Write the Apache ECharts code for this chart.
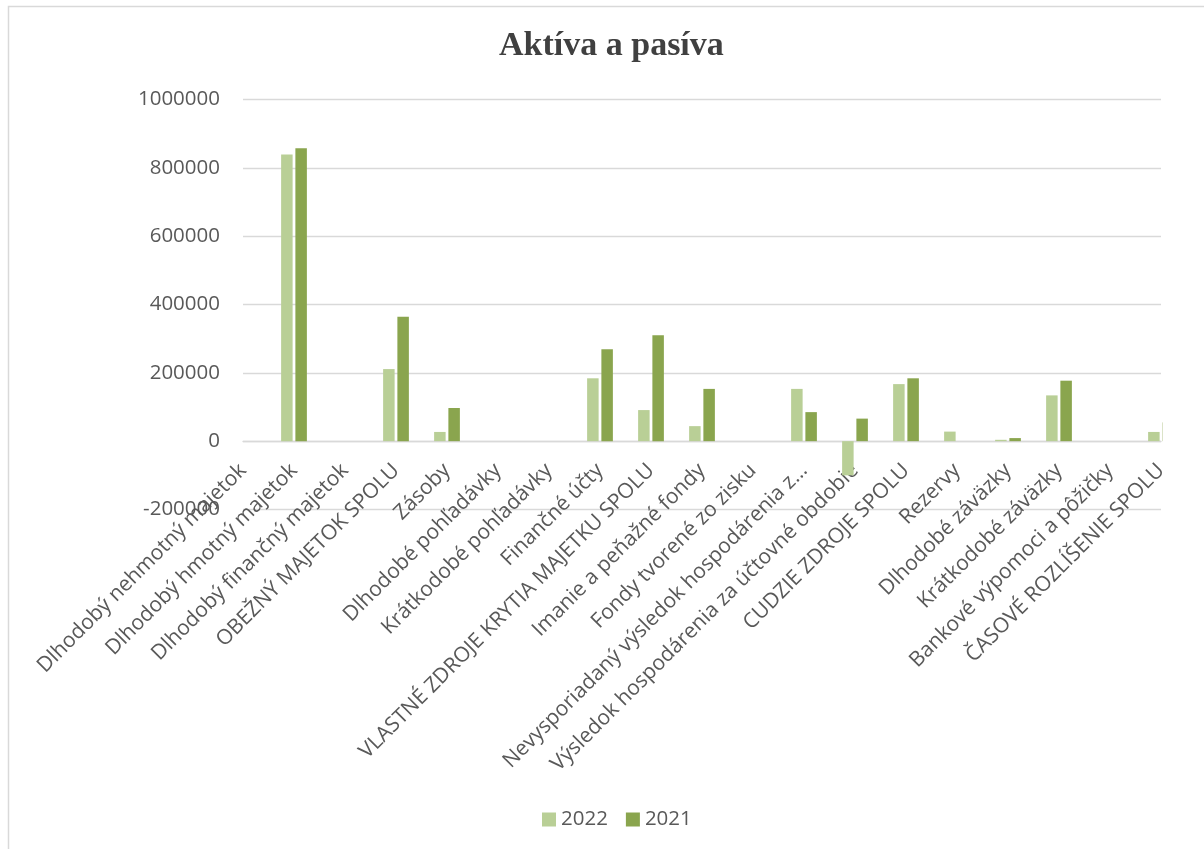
<!DOCTYPE html>
<html>
<head>
<meta charset="utf-8">
<script src="https://cdn.jsdelivr.net/npm/echarts@6/dist/echarts.min.js"></script>
<style>
html,body{margin:0;padding:0;background:#fff;}
#chart{width:1204px;height:849px;}
</style>
</head>
<body>
<div id="chart"></div>
<script>
var categories = [
  'Dlhodobý nehmotný majetok',
  'Dlhodobý hmotný majetok',
  'Dlhodobý finančný majetok',
  'OBEŽNÝ MAJETOK SPOLU',
  'Zásoby',
  'Dlhodobé pohľadávky',
  'Krátkodobé pohľadávky',
  'Finančné účty',
  'VLASTNÉ ZDROJE KRYTIA MAJETKU SPOLU',
  'Imanie a peňažné fondy',
  'Fondy tvorené zo zisku',
  'Nevysporiadaný výsledok hospodárenia z…',
  'Výsledok hospodárenia za účtovné obdobie',
  'CUDZIE ZDROJE SPOLU',
  'Rezervy',
  'Dlhodobé záväzky',
  'Krátkodobé záväzky',
  'Bankové výpomoci a pôžičky',
  'ČASOVÉ ROZLÍŠENIE SPOLU'
];
var values2022 = [0, 839000, 0, 211000, 27000, 0, 0, 184000, 91000, 44000, 0, 153000, -100000, 167000, 28000, 4000, 134000, 0, 27000];
var values2021 = [0, 857000, 0, 364000, 97000, 0, 0, 269000, 310000, 153000, 0, 85000, 66000, 184000, 0, 9000, 177000, 0, 55000];
var yTicks = { min: -200000, max: 1000000, step: 200000 };
var seriesNames = ['2022', '2021'];

var chart = echarts.init(document.getElementById('chart'), null, {renderer: 'canvas'});
var gridColor = '#d9d9d9';
var textColor = '#595959';
var chartW = 1204, chartH = 849;
var gridLeft = 243, gridRight = 43, gridTop = 99.5, gridBottom = 339.5;
var gridH = chartH - gridTop - gridBottom;
var zeroOffset = -gridH * (0 - yTicks.min) / (yTicks.max - yTicks.min);
var option = {
  animation: false,
  backgroundColor: '#ffffff',
  title: {
    text: 'Aktíva a pasíva',
    left: 494,
    top: 24,
    textStyle: {
      fontFamily: '"Liberation Serif", "Times New Roman", serif',
      fontWeight: 'bold',
      fontSize: 34,
      color: '#404040'
    }
  },
  legend: {
    data: seriesNames,
    left: 537,
    top: 804,
    icon: 'rect',
    itemWidth: 14,
    itemHeight: 14,
    itemGap: 18,
    textStyle: { fontFamily: '"Open Sans", sans-serif', fontSize: 20.5, color: textColor }
  },
  graphic: [
    {
      // mask: the plot area ends at the grid's right edge (bars beyond it are cut off)
      type: 'rect',
      silent: true,
      z: 50,
      shape: { x: chartW - gridRight + 1.5, y: gridTop - 5, width: gridRight - 3, height: gridH + 10 },
      style: { fill: '#ffffff', stroke: null }
    },
    {
      type: 'rect',
      silent: true,
      z: 60,
      shape: { x: 8.5, y: 6.5, width: 1300, height: 900 },
      style: { fill: 'none', stroke: gridColor, lineWidth: 1.5 }
    }
  ],
  grid: { left: gridLeft, right: gridRight, top: gridTop, bottom: gridBottom, containLabel: false },
  xAxis: {
    type: 'category',
    data: categories,
    boundaryGap: false,
    offset: zeroOffset,
    axisLine: { show: true, onZero: false, lineStyle: { color: gridColor, width: 1.3 } },
    axisTick: { show: false },
    splitLine: { show: false },
    axisLabel: {
      rotate: 45,
      interval: 0,
      margin: 26,
      fontFamily: '"Open Sans", sans-serif',
      fontSize: 21,
      color: textColor
    }
  },
  yAxis: {
    type: 'value',
    min: yTicks.min,
    max: yTicks.max,
    interval: yTicks.step,
    axisLine: { show: false },
    axisTick: { show: false },
    splitLine: { lineStyle: { color: gridColor, width: 1.3 } },
    axisLabel: {
      margin: 23,
      fontFamily: '"Open Sans", sans-serif',
      fontSize: 20.5,
      color: textColor,
      formatter: function (v) { return String(v); }
    }
  },
  series: [
    {
      name: seriesNames[0],
      type: 'bar',
      data: values2022,
      barWidth: 11.5,
      barGap: '24%',
      clip: true,
      itemStyle: { color: '#B9CF96' }
    },
    {
      name: seriesNames[1],
      type: 'bar',
      data: values2021,
      barWidth: 11.5,
      barGap: '24%',
      clip: true,
      itemStyle: { color: '#8AA54E' }
    }
  ]
};
chart.setOption(option);
</script>
</body>
</html>
